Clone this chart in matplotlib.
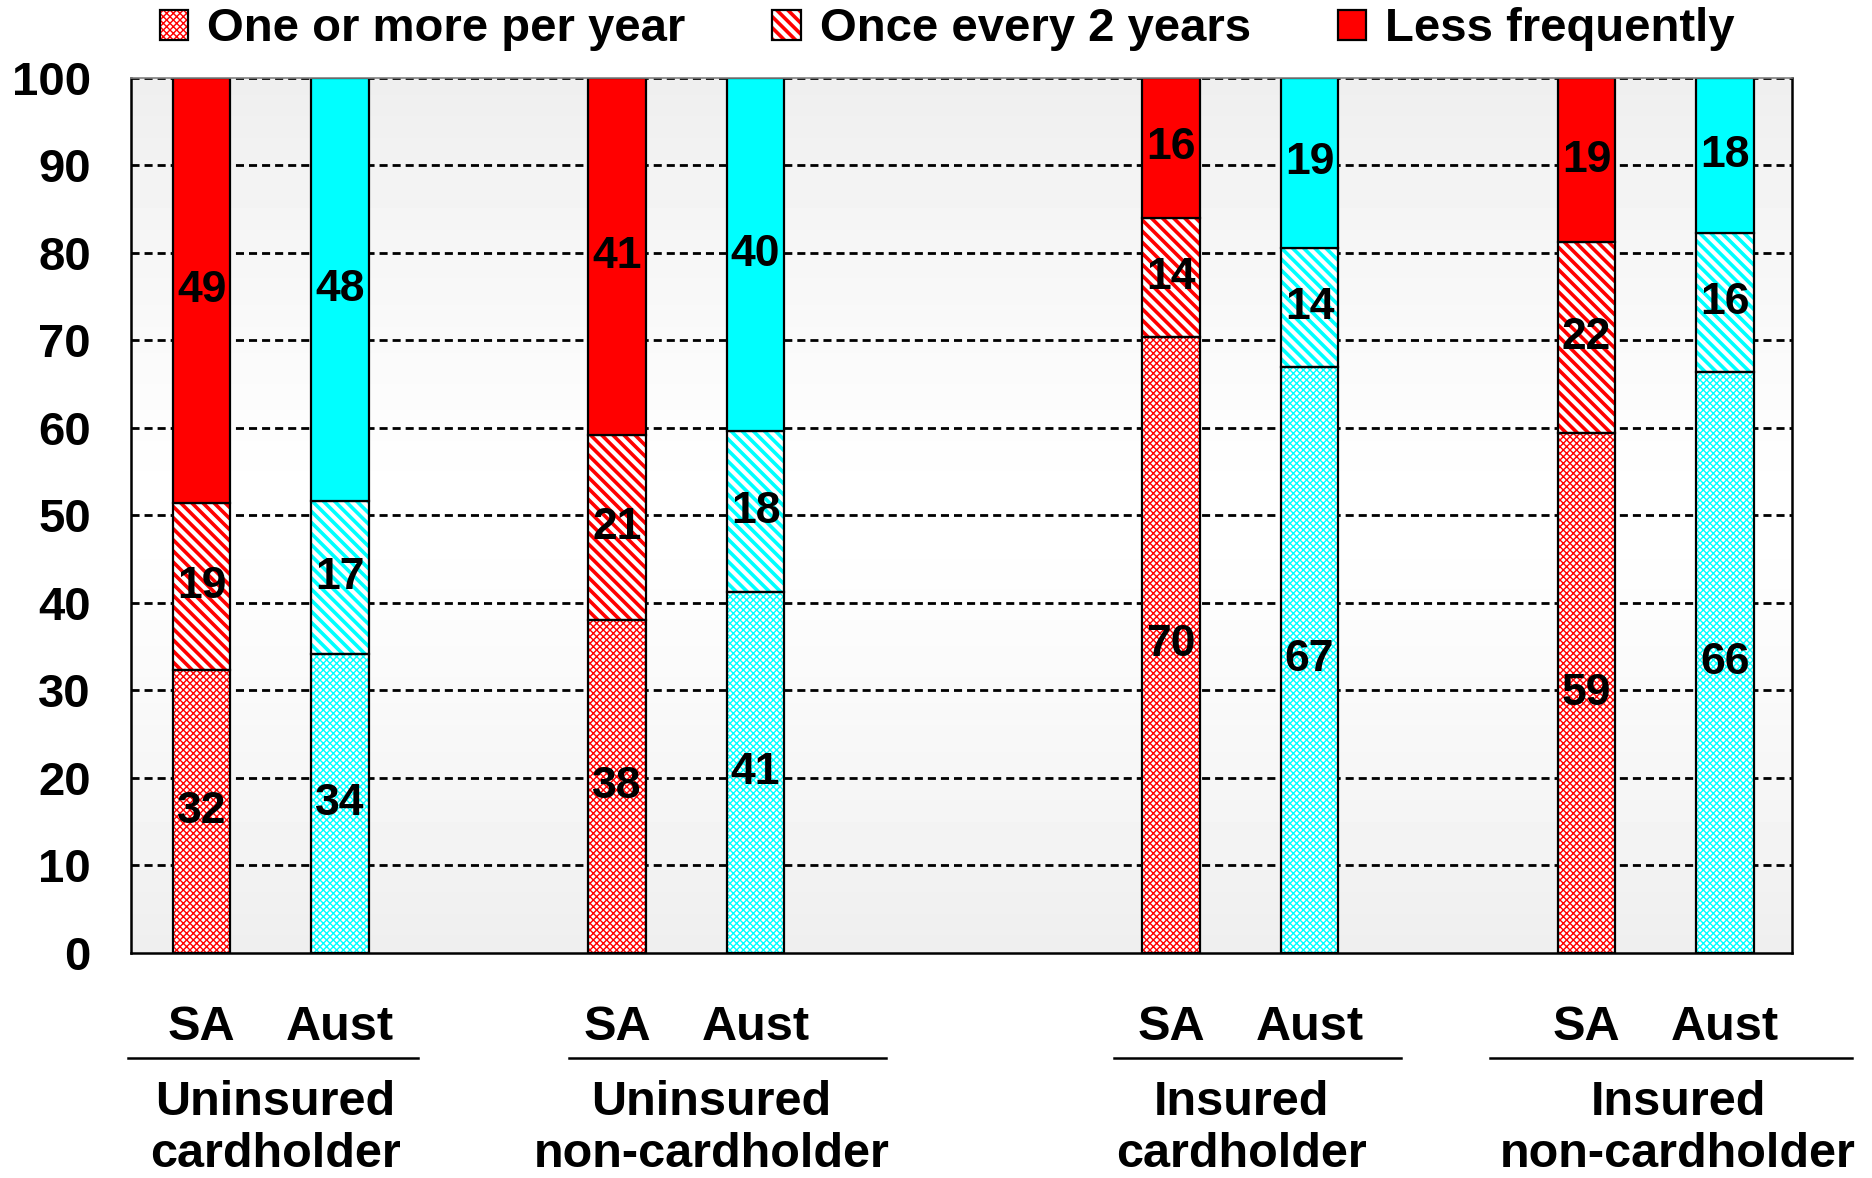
import matplotlib
matplotlib.use('Agg')
import matplotlib.pyplot as plt
from matplotlib.patches import Patch
import numpy as np

plt.rcParams['font.family'] = ['Liberation Sans', 'DejaVu Sans']
plt.rcParams['font.weight'] = 'bold'

# data (percent of respondents)
groups = ['Uninsured\ncardholder', 'Uninsured\nnon-cardholder', 'Insured\ncardholder', 'Insured\nnon-cardholder']
regions = ['SA', 'Aust']
series = ['One or more per year', 'Once every 2 years', 'Less frequently']
one_or_more = [32.3, 34.2, 38.1, 41.2, 70.4, 67.0, 59.4, 66.4]
every_2_years = [19.1, 17.4, 21.1, 18.4, 13.6, 13.6, 21.8, 15.9]
less_frequently = [48.6, 48.4, 40.8, 40.4, 16.0, 19.4, 18.8, 17.7]

region_colors = {'SA': '#ff0000', 'Aust': '#00ffff'}
group_start = [0, 3, 7, 10]   # slot of first bar in each group
width = 0.414
CROSS, CROSS_LW = 'xxxxx', 1.0
STRIPE, STRIPE_LW = '\\\\\\', 2.6

x = []
cols = []
for g in group_start:
    for i, r in enumerate(regions):
        x.append(g + i)
        cols.append(region_colors[r])
x = np.array(x)


def hatch_lw(artist, lw):
    """Force a per-artist hatch line width (stored on the patch in newer
    matplotlib, read from rcParams at draw time in older ones)"""
    if hasattr(artist, 'set_hatch_linewidth'):
        artist.set_hatch_linewidth(lw)
    elif hasattr(artist, '_hatch_linewidth'):
        artist._hatch_linewidth = lw
    orig = artist.draw

    def draw(renderer):
        with plt.rc_context({'hatch.linewidth': lw}):
            orig(renderer)
    artist.draw = draw


fig = plt.figure(figsize=(18.72, 11.78), dpi=100)
ax = fig.add_axes([0.070, 0.191, 0.887, 0.743])
xlim = (-0.51, 11.48)
ax.set_xlim(*xlim)
ax.set_ylim(0, 100)

# gray-white-gray background
t = np.linspace(0, 1, 200)
grad = 1.0 - 0.065 * np.abs(2 * t - 1) ** 1.2
ax.imshow(grad[:, None], extent=[xlim[0], xlim[1], 0, 100], aspect='auto',
          cmap='gray', vmin=0, vmax=1, zorder=0, origin='lower')

for yv in range(10, 101, 10):
    ax.axhline(yv, color='black', lw=2, ls=(0, (2.9, 1.8)), zorder=1)


def hatched_bars(bottom, height, hatch, hlw):
    with plt.rc_context({'hatch.linewidth': hlw}):
        bars = ax.bar(x, height, width, bottom=bottom, color='white', edgecolor=cols,
                      hatch=hatch, linewidth=0, zorder=2)
    for b in bars:
        hatch_lw(b, hlw)
    ax.bar(x, height, width, bottom=bottom, fill=False, edgecolor='black', linewidth=1.6, zorder=3)


one_or_more = np.array(one_or_more)
every_2_years = np.array(every_2_years)
less_frequently = np.array(less_frequently)

hatched_bars(0, one_or_more, CROSS, CROSS_LW)
hatched_bars(one_or_more, every_2_years, STRIPE, STRIPE_LW)
ax.bar(x, less_frequently, width, bottom=one_or_more + every_2_years, color=cols,
       edgecolor='black', linewidth=1.6, zorder=3)

# segment labels
bottoms = [np.zeros(len(x)), one_or_more, one_or_more + every_2_years]
for vals, bot in zip([one_or_more, every_2_years, less_frequently], bottoms):
    for xi, v, b in zip(x, vals, bot):
        ax.text(xi, b + v / 2, str(round(v)), ha='center', va='center',
                fontsize=32, fontweight='bold', zorder=5)

ax.set_yticks(range(0, 101, 10))
ax.set_xticks([])
ax.tick_params(axis='y', length=0, pad=29, labelsize=34)
for lab in ax.get_yticklabels():
    lab.set_fontweight('bold')
for s in ax.spines.values():
    s.set_linewidth(1.8)
    s.set_zorder(6)
ax.spines['top'].set_color('#808080')
ax.spines['top'].set_linewidth(1.2)

# category labels under the axis
tr = ax.get_xaxis_transform()
for xi, i in zip(x, range(len(x))):
    ax.text(xi, -0.085, regions[i % 2], transform=tr, ha='center', va='center',
            fontsize=35, fontweight='bold')
line_left = [-0.53, -0.35, -0.41, -0.70]
line_right = [0.56, 0.94, 0.66, 0.92]
label_center = [0.53, 0.68, 0.51, 0.66]
for g, name, l0, l1, c in zip(group_start, groups, line_left, line_right, label_center):
    ax.plot([g + l0, g + 1 + l1], [-0.12, -0.12], transform=tr, color='black', lw=1.8, clip_on=False)
    ax.text(g + c, -0.201, name, transform=tr, ha='center', va='center',
            fontsize=35, fontweight='bold', linespacing=1.2)

# legend (SA colours)
handles = []
for hatch in [CROSS, STRIPE, None]:
    if hatch is None:
        handles.append(Patch(facecolor='#ff0000', edgecolor='black', linewidth=1.6))
    else:
        p = Patch(facecolor='white', edgecolor='#ff0000', hatch=hatch, linewidth=0)
        handles.append((p, Patch(fill=False, edgecolor='black', linewidth=1.6)))
leg = fig.legend(handles, series, loc='center', bbox_to_anchor=(0.506, 0.975), ncol=3,
                 frameon=False, handlelength=0.6, handleheight=0.6,
                 handletextpad=0.4, columnspacing=1.85, prop={'weight': 'bold', 'size': 34})
for a in leg.findobj(Patch):
    if a.get_hatch() == STRIPE:
        hatch_lw(a, STRIPE_LW)
    elif a.get_hatch() == CROSS:
        hatch_lw(a, CROSS_LW)

fig.savefig('out.png', dpi=100)
